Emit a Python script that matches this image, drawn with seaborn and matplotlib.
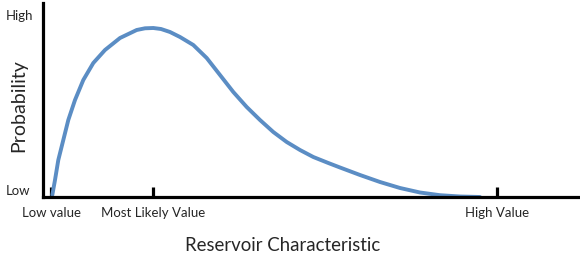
import matplotlib
matplotlib.use("Agg")
import matplotlib.pyplot as plt
import seaborn as sns
import pandas as pd

# Curve (x: characteristic units, y: probability units)
curve_x = [9.3, 12, 15.3, 20.3, 25.3, 32, 40.3, 50.3, 62, 77, 93.7, 102, 110.3,
           118, 127, 137, 150.3, 163.7, 177, 190.3, 203.7, 217, 230.3, 243.7,
           257, 270.3, 285.3, 297, 317, 337, 357, 377, 397, 417, 437]
curve_y = [2, 17, 37, 57, 77, 97, 117, 134, 147, 159, 167, 168.7, 169,
           168, 165, 160, 152, 139, 122, 105, 90, 77, 65, 55,
           47, 40, 34, 29.5, 22, 15, 9, 4.5, 1.8, 0.5, 0]

xtick_pos = [8, 110, 454]
xtick_labels = ["Low value", "Most Likely Value", "High Value"]
ytick_pos = [7, 182]
ytick_labels = ["Low", "High"]
x_title = "Reservoir Characteristic"
y_title = "Probability"

sns.set_style("white")
plt.rcParams['font.family'] = ['Lato', 'DejaVu Sans']

df = pd.DataFrame({"x": curve_x, "y": curve_y})

fig = plt.figure(figsize=(5.8, 2.77), dpi=100)
ax = fig.add_axes([43/580, 80/277, 535/580, 194/277])
sns.lineplot(data=df, x="x", y="y", ax=ax, color="#5b8dc4", linewidth=2.8,
             solid_capstyle="round", solid_joinstyle="round")
ax.set_xlim(0, 535)
ax.set_ylim(0, 194)

for s in ["top", "right"]:
    ax.spines[s].set_visible(False)
for s in ["left", "bottom"]:
    ax.spines[s].set_linewidth(2.3)
    ax.spines[s].set_color("black")

ax.set_xticks(xtick_pos)
ax.set_xticklabels(xtick_labels, fontsize=9.5)
ax.tick_params(axis="x", direction="in", length=7, width=2.3, color="black", pad=7,
               bottom=True)
ax.set_yticks(ytick_pos)
ax.set_yticklabels(ytick_labels, fontsize=9.5, ha="left")
ax.tick_params(axis="y", length=0, pad=27)

ax.set_xlabel(x_title, fontsize=13.4)
ax.xaxis.set_label_coords(0.447, -0.205)
ax.set_ylabel(y_title, fontsize=14)
ax.yaxis.set_label_coords(-0.03, 0.47)

fig.savefig("out.png", dpi=100)
